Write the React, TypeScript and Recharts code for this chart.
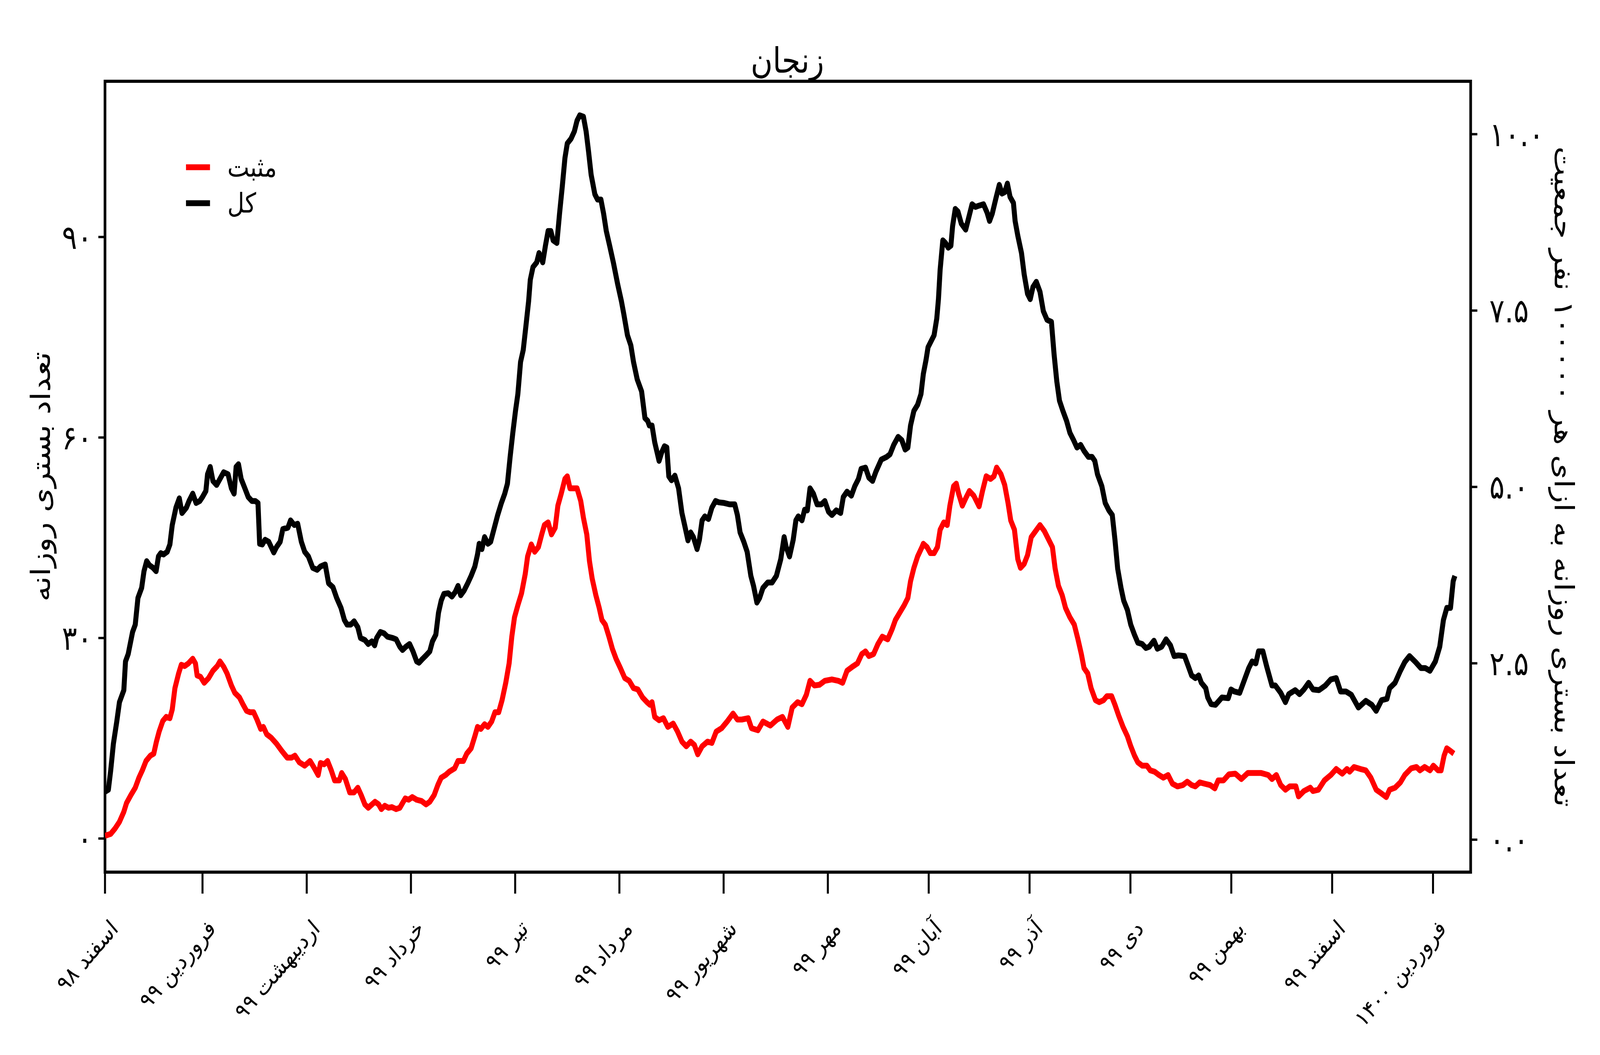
import React from 'react'
import { LineChart, XAxis, YAxis, Line, ReferenceArea } from 'recharts'

// days since 1 Esfand 98
const totalPoints: [number, number][] = [
  [0, 7.0], [1, 7.3], [1.7, 10.2], [2.5, 14.2], [3.5, 17.5], [4.3, 20.4], [5.6, 22.2], [6.1, 26.5], [6.9, 27.6],
  [8.2, 30.9], [9.0, 32.0], [9.8, 36.0], [10.9, 37.5], [11.6, 40.0], [12.4, 41.5], [13.2, 40.9], [14.3, 40.5],
  [15.2, 40.0], [15.9, 42.2], [16.6, 42.7], [17.4, 42.5], [18.5, 42.9], [19.3, 44.0], [20.0, 46.9], [21.1, 49.5],
  [22.1, 50.9], [22.9, 48.7], [24.2, 49.5], [25.0, 50.5], [26.1, 51.6], [27.1, 50.2], [28.2, 50.5], [29.0, 51.1],
  [30.0, 52.0], [30.5, 54.5], [31.3, 55.6], [32.1, 53.5], [33.2, 52.9], [34.2, 53.8], [35.3, 54.8], [36.6, 54.5],
  [37.6, 52.4], [38.4, 51.6], [39.0, 55.6], [39.7, 56.0], [40.5, 53.8], [41.6, 52.4], [42.6, 51.1], [43.7, 50.5],
  [44.7, 50.5], [45.5, 50.2], [46.0, 44.1], [46.8, 44.0], [47.6, 44.7], [48.7, 44.4], [50.2, 42.8], [51.0, 43.6],
  [52.1, 44.4], [52.9, 46.3], [53.6, 46.4], [54.4, 46.5], [55.2, 47.6], [56.3, 46.9], [57.3, 47.1], [58.4, 44.4],
  [59.4, 42.9], [60.5, 42.2], [61.8, 40.5], [63.1, 40.2], [64.1, 40.7], [65.5, 41.0], [66.5, 38.2], [67.8, 37.6],
  [68.9, 36.0], [70.2, 34.5], [71.2, 32.7], [72.0, 32.0], [73.1, 32.0], [74.1, 32.5], [75.2, 31.6], [76.0, 30.0],
  [77.3, 29.7], [78.3, 29.1], [79.4, 29.5], [80.2, 28.9], [80.8, 30.0], [81.9, 30.9], [83.0, 30.7], [84.0, 30.2],
  [85.6, 30.0], [86.6, 29.8], [87.7, 28.7], [88.5, 28.2], [89.5, 28.7], [90.6, 29.1], [91.6, 28.0], [92.7, 26.5],
  [93.4, 26.3], [94.5, 26.9], [95.5, 27.4], [96.6, 28.0], [97.4, 29.5], [98.4, 30.5], [99.2, 33.8], [100.0, 35.6],
  [100.8, 36.6], [102.1, 36.7], [103.2, 36.2], [104.2, 36.9], [105.0, 37.8], [105.8, 36.4], [106.8, 37.1],
  [107.9, 38.2], [108.9, 39.3], [110.0, 40.7], [110.8, 42.5], [111.3, 44.1], [112.1, 43.3], [112.9, 45.1],
  [113.9, 44.1], [114.7, 44.4], [115.8, 46.5], [116.8, 48.4], [117.9, 50.2], [118.9, 51.6], [119.7, 53.1],
  [120.5, 57.1], [121.3, 60.7], [122.1, 64.0], [122.8, 66.5], [123.6, 71.3], [124.4, 73.1], [125.2, 76.7],
  [126.0, 80.4], [126.5, 83.6], [127.3, 85.5], [128.4, 86.2], [129.1, 87.6], [130.2, 86.2], [131.0, 88.7],
  [131.8, 90.9], [132.6, 90.9], [133.3, 89.5], [134.4, 89.1], [135.2, 93.5], [136.0, 97.5], [136.8, 101.8],
  [137.5, 104.0], [138.6, 104.7], [139.6, 105.8], [140.4, 107.4], [141.2, 108.2], [142.3, 108.0], [143.1, 105.8],
  [143.8, 102.9], [144.6, 99.3], [145.7, 96.4], [146.5, 95.6], [147.5, 95.6], [148.3, 93.5], [149.1, 90.9],
  [150.1, 88.7], [151.2, 86.2], [152.5, 82.9], [153.6, 80.4], [154.3, 78.5], [155.4, 75.3], [156.4, 73.8],
  [157.2, 71.3], [158.3, 68.7], [159.6, 66.9], [160.6, 62.9], [161.4, 62.5], [161.9, 61.8], [162.7, 61.8],
  [163.5, 59.3], [164.2, 57.8], [164.8, 56.5], [165.6, 57.8], [166.4, 58.7], [167.1, 58.5], [167.7, 54.2],
  [168.5, 53.6], [169.5, 54.3], [170.6, 52.4], [171.6, 48.7], [172.4, 46.9], [173.4, 44.6], [174.2, 45.8],
  [175.0, 45.1], [176.1, 43.3], [176.8, 44.7], [177.6, 47.6], [178.4, 48.2], [179.5, 47.8], [180.5, 49.5],
  [181.6, 50.5], [182.6, 50.3], [184.2, 50.2], [185.8, 50.0], [187.3, 50.0], [188.1, 48.4], [188.9, 45.8],
  [190.0, 44.4], [191.0, 42.9], [192.1, 39.3], [192.9, 37.8], [193.9, 35.3], [194.7, 36.0], [195.7, 37.5],
  [197.1, 38.3], [198.4, 38.3], [199.7, 39.3], [201.0, 41.8], [202.0, 45.1], [202.6, 43.6], [203.6, 42.2],
  [204.7, 44.7], [205.5, 47.6], [206.2, 48.2], [207.3, 47.6], [208.1, 49.2], [208.9, 49.1], [209.7, 52.4],
  [210.7, 51.6], [211.8, 50.0], [213.1, 50.0], [214.1, 50.5], [215.2, 48.9], [216.2, 48.4], [217.5, 49.1],
  [218.8, 48.7], [219.6, 51.1], [220.7, 51.9], [222.0, 51.3], [223.0, 52.7], [224.1, 53.8], [224.9, 55.3],
  [226.2, 55.5], [227.2, 54.0], [228.3, 53.5], [229.3, 54.9], [230.9, 56.7], [232.5, 57.1], [233.5, 57.5],
  [234.6, 58.9], [235.9, 60.1], [237.0, 59.6], [238.0, 58.2], [238.8, 58.5], [239.6, 61.8], [240.6, 64.0],
  [241.7, 64.9], [242.7, 66.5], [243.4, 69.5], [244.2, 71.6], [244.8, 73.5], [245.5, 74.2], [246.6, 75.3],
  [247.4, 77.8], [247.9, 80.7], [248.4, 85.1], [249.2, 89.5], [250.0, 89.1], [250.8, 88.4], [251.6, 88.7],
  [252.1, 91.6], [252.9, 94.2], [253.7, 93.8], [254.7, 92.0], [256.0, 91.1], [256.8, 92.7], [257.9, 94.9],
  [258.9, 94.5], [260.0, 94.7], [261.3, 94.9], [262.4, 93.6], [263.1, 92.4], [263.9, 93.5], [265.0, 95.8],
  [266.0, 97.8], [266.8, 96.5], [267.6, 96.7], [268.4, 98.0], [269.2, 96.0], [270.2, 95.1], [270.7, 92.4],
  [271.5, 90.2], [272.6, 87.6], [273.4, 84.4], [274.4, 81.5], [275.2, 80.7], [276.0, 82.5], [277.0, 83.3],
  [278.1, 81.8], [279.1, 78.9], [280.2, 77.6], [281.5, 77.3], [282.3, 72.4], [283.1, 68.4], [283.9, 65.5],
  [284.9, 64.0], [286.0, 62.5], [287.0, 60.7], [288.1, 59.6], [289.1, 58.5], [290.2, 58.9], [291.2, 58.0],
  [292.5, 57.1], [293.6, 57.1], [294.4, 56.5], [295.2, 54.5], [296.5, 52.7], [297.5, 50.2], [298.6, 49.1],
  [299.6, 48.4], [300.4, 44.7], [301.2, 40.4], [302.2, 37.5], [303.0, 35.6], [304.1, 34.2], [305.1, 32.0],
  [306.2, 30.5], [307.2, 29.3], [308.5, 29.1], [309.6, 28.5], [310.6, 28.7], [312.0, 29.6], [313.0, 28.4],
  [314.3, 28.7], [315.6, 29.8], [316.9, 28.9], [318.0, 27.3], [319.3, 27.4], [321.1, 27.3], [322.2, 25.8],
  [323.2, 24.4], [324.3, 24.0], [325.3, 24.4], [326.1, 23.3], [327.4, 22.5], [328.0, 21.1], [329.0, 20.1],
  [330.3, 20.0], [332.2, 21.1], [334.1, 21.0], [334.9, 22.3], [335.9, 22.0], [337.5, 21.8], [339.1, 24.0],
  [340.2, 25.5], [341.2, 26.5], [342.3, 26.2], [343.1, 28.0], [344.4, 28.0], [345.5, 25.8], [347.1, 22.9],
  [348.1, 22.9], [349.7, 21.8], [351.1, 20.4], [352.1, 21.6], [354.0, 22.2], [355.3, 21.6], [356.6, 22.3],
  [358.0, 23.3], [359.3, 22.3], [361.1, 22.2], [363.0, 22.9], [364.6, 23.8], [366.2, 24.0], [367.5, 22.0],
  [369.1, 22.0], [370.7, 21.5], [372.8, 19.6], [375.0, 20.6], [376.8, 20.0], [378.1, 19.1], [379.7, 20.7],
  [381.3, 20.9], [382.1, 22.5], [383.7, 23.3], [385.3, 25.1], [386.6, 26.4], [388.0, 27.3], [389.8, 26.4],
  [391.4, 25.5], [392.7, 25.5], [394.1, 25.1], [395.7, 26.5], [397.0, 28.7], [398.1, 32.7], [399.1, 34.5],
  [400.2, 34.5], [401.0, 38.5], [401.5, 39.3],
]

const positivePoints: [number, number][] = [
  [0, 0.4], [1.7, 0.7], [3.0, 1.5], [4.3, 2.5], [5.6, 4.0], [6.4, 5.3], [7.7, 6.5], [9.0, 7.6], [10.1, 9.1],
  [11.1, 10.2], [12.2, 11.6], [13.5, 12.4], [14.5, 12.7], [15.3, 14.5], [16.1, 16.0], [17.2, 17.6], [18.2, 18.2],
  [19.3, 18.0], [20.0, 19.3], [20.8, 22.5], [21.9, 24.7], [22.7, 26.0], [23.7, 25.8], [24.8, 26.2], [26.1, 26.9],
  [26.9, 26.2], [27.4, 24.4], [28.4, 24.2], [29.5, 23.3], [30.8, 24.0], [32.1, 25.1], [33.4, 25.8], [34.2, 26.5],
  [35.3, 25.7], [36.3, 24.7], [37.6, 22.9], [38.6, 21.8], [40.0, 21.1], [41.0, 20.1], [42.1, 19.1], [43.1, 18.9],
  [44.2, 18.9], [45.2, 17.8], [46.3, 16.4], [47.1, 16.7], [48.1, 15.6], [49.4, 15.1], [51.0, 14.2], [52.6, 13.1],
  [54.2, 12.1], [55.5, 12.1], [56.5, 12.4], [57.8, 11.4], [59.4, 10.9], [61.0, 11.6], [62.3, 10.5], [63.4, 9.5],
  [64.1, 11.3], [65.2, 11.1], [66.2, 11.6], [67.3, 10.2], [68.3, 8.7], [69.7, 8.7], [70.4, 9.8], [71.5, 8.9],
  [72.8, 6.9], [74.1, 6.9], [75.2, 7.6], [76.2, 6.5], [77.3, 5.1], [78.3, 4.6], [79.4, 5.1], [80.3, 5.5],
  [81.4, 5.1], [82.2, 4.4], [83.2, 4.9], [84.3, 4.6], [85.3, 4.7], [86.6, 4.4], [87.7, 4.6], [88.5, 5.3],
  [89.3, 6.0], [90.3, 5.8], [91.4, 6.2], [92.7, 5.8], [94.2, 5.6], [95.5, 5.1], [96.6, 5.5], [97.9, 6.5],
  [99.0, 8.0], [100.0, 9.1], [101.3, 9.5], [102.4, 10.0], [104.0, 10.5], [105.0, 11.6], [106.6, 11.6],
  [107.6, 12.7], [108.9, 13.5], [110.0, 15.3], [110.8, 16.7], [111.8, 16.4], [112.9, 17.1], [113.9, 16.7],
  [115.0, 17.5], [116.0, 18.9], [117.1, 18.9], [118.1, 20.7], [119.2, 23.3], [120.2, 26.2], [121.0, 30.2],
  [121.8, 33.1], [122.8, 34.9], [123.9, 36.7], [125.0, 39.6], [125.7, 42.2], [126.8, 44.0], [127.8, 42.9],
  [128.9, 43.6], [129.9, 45.5], [130.7, 46.9], [131.8, 47.3], [132.8, 45.5], [133.9, 46.5], [134.7, 49.8],
  [135.7, 51.6], [136.8, 53.8], [137.5, 54.2], [138.3, 52.4], [139.4, 52.4], [140.4, 52.4], [141.5, 50.5],
  [142.3, 48.0], [143.3, 45.5], [144.1, 41.5], [144.9, 38.9], [146.0, 36.4], [147.0, 34.5], [147.8, 32.7],
  [148.8, 32.0], [149.9, 30.2], [150.9, 28.4], [152.0, 26.9], [153.3, 25.5], [154.6, 24.0], [155.9, 23.6],
  [157.2, 22.5], [158.5, 22.3], [159.9, 21.1], [161.2, 20.4], [162.1, 20.0], [162.7, 20.4], [163.5, 18.2],
  [164.8, 17.7], [166.1, 18.0], [167.4, 16.7], [169.0, 17.2], [170.3, 16.0], [171.6, 14.5], [172.9, 13.8],
  [174.2, 14.5], [175.3, 14.0], [176.3, 12.6], [177.6, 13.8], [179.2, 14.5], [180.5, 14.3], [181.8, 16.0],
  [183.4, 16.5], [185.2, 17.6], [186.8, 18.7], [188.1, 17.8], [189.4, 17.8], [191.3, 18.0], [192.3, 16.5],
  [194.2, 16.2], [195.7, 17.5], [197.9, 16.9], [199.9, 17.8], [201.5, 18.2], [203.1, 16.7], [204.4, 19.6],
  [206.0, 20.4], [207.3, 20.1], [208.6, 21.5], [209.7, 23.6], [211.0, 22.9], [212.5, 23.0], [214.1, 23.6],
  [216.2, 23.8], [218.1, 23.6], [219.4, 23.3], [220.7, 25.1], [222.3, 25.7], [223.8, 26.2], [225.1, 27.6],
  [226.2, 28.0], [227.2, 27.3], [228.6, 27.6], [229.9, 29.1], [231.2, 30.2], [232.8, 29.8], [234.1, 31.3],
  [235.1, 32.7], [236.4, 33.8], [237.7, 34.9], [238.8, 36.0], [239.6, 38.5], [240.6, 40.5], [241.7, 42.2],
  [243.0, 43.6], [243.4, 44.1], [244.5, 43.6], [245.5, 42.7], [246.6, 42.7], [247.6, 43.6], [248.4, 46.2],
  [249.5, 47.3], [250.5, 46.9], [251.3, 49.8], [252.4, 52.7], [253.2, 53.1], [253.9, 51.6], [255.0, 49.8],
  [256.0, 50.9], [257.1, 52.0], [258.4, 51.3], [260.0, 49.7], [261.0, 52.0], [262.1, 54.2], [263.4, 53.8],
  [264.4, 54.2], [265.2, 55.5], [266.5, 54.5], [267.6, 52.9], [268.6, 50.2], [269.4, 47.6], [270.5, 46.2],
  [271.5, 41.8], [272.3, 40.5], [273.4, 41.1], [274.4, 42.4], [275.5, 45.1], [276.8, 46.0], [278.1, 46.9],
  [279.4, 46.0], [280.7, 44.7], [281.8, 43.6], [282.6, 40.4], [283.6, 37.8], [284.7, 36.4], [285.7, 34.5],
  [287.0, 33.1], [288.3, 32.0], [289.4, 29.8], [290.4, 27.6], [291.2, 25.5], [292.3, 24.7], [293.3, 22.5],
  [294.6, 20.7], [295.7, 20.4], [297.0, 20.7], [298.0, 21.3], [299.4, 21.3], [300.4, 20.0], [301.5, 18.4],
  [302.8, 16.7], [304.1, 15.3], [305.1, 13.8], [306.2, 12.4], [307.2, 11.4], [308.5, 10.9], [309.9, 10.9],
  [310.9, 10.2], [312.2, 10.0], [313.5, 9.5], [314.8, 9.1], [316.2, 9.5], [317.5, 8.2], [319.0, 7.8],
  [320.6, 8.0], [321.9, 8.5], [323.2, 8.0], [324.3, 7.8], [325.6, 8.4], [327.1, 8.2], [328.7, 8.0], [330.1, 7.5],
  [331.1, 8.7], [332.7, 8.7], [334.3, 9.6], [336.2, 9.7], [338.0, 8.9], [339.9, 9.8], [342.0, 9.8], [343.9, 9.8],
  [346.0, 9.5], [347.1, 8.9], [348.4, 9.5], [349.7, 8.0], [351.1, 7.3], [352.4, 7.8], [354.2, 7.8], [355.0, 6.3],
  [356.6, 7.1], [358.5, 7.6], [359.3, 7.1], [360.9, 7.3], [362.7, 8.7], [364.6, 9.5], [366.2, 10.4], [368.0, 9.7],
  [369.4, 10.4], [370.2, 10.0], [371.5, 10.7], [373.4, 10.4], [375.0, 10.2], [376.5, 9.1], [378.1, 7.3],
  [379.5, 6.8], [381.1, 6.2], [382.1, 7.3], [383.7, 7.6], [385.3, 8.4], [386.6, 9.5], [388.5, 10.5], [390.1, 10.7],
  [391.1, 10.2], [392.5, 10.7], [394.1, 10.2], [395.1, 10.9], [396.5, 10.2], [397.4, 10.2], [398.3, 12.4],
  [399.1, 13.5], [400.2, 13.1], [401.2, 12.7],
]

const monthDays = [0, 29, 60, 91, 122, 153, 184, 215, 245, 275, 305, 335, 365, 395]
const monthLabels = [
  'اسفند ۹۸', 'فروردین ۹۹', 'اردیبهشت ۹۹', 'خرداد ۹۹', 'تیر ۹۹', 'مرداد ۹۹', 'شهریور ۹۹',
  'مهر ۹۹', 'آبان ۹۹', 'آذر ۹۹', 'دی ۹۹', 'بهمن ۹۹', 'اسفند ۹۹', 'فروردین ۱۴۰۰',
]
const leftTicks = [0, 30, 60, 90]
const rightTicks = [0, 2.5, 5, 7.5, 10]

const FONT = 'DejaVu Sans'
const W = 4800
const H = 2700
const X_DOMAIN: [number, number] = [0, 406.2]
const LEFT_DOMAIN: [number, number] = [-5.03, 113.3]
const RIGHT_DOMAIN: [number, number] = [-0.46, 10.75]

const toFa = (s: string) => s.replace(/[0-9]/g, (d) => '۰۱۲۳۴۵۶۷۸۹'[Number(d)])

const totalData = totalPoints.map(([day, value]) => ({ day, value }))
const positiveData = positivePoints.map(([day, value]) => ({ day, value }))

const MonthTick = (props: any) => {
  const { x, y, payload } = props
  const i = monthDays.indexOf(payload.value)
  return (
    <g transform={`translate(${x + 28},${y + 78}) rotate(-45)`}>
      <text textAnchor="end" dominantBaseline="central" fontSize={60} fontFamily={FONT} fill="#000">
        {monthLabels[i]}
      </text>
    </g>
  )
}

const tickLine = { stroke: '#000', strokeWidth: 6 }
const tickText = { fontSize: 85, fill: '#000', fontFamily: FONT }

export default function App() {
  // the browser window may be narrower than the 4800x2700 design: fit it
  const vw = typeof window !== 'undefined' ? window.innerWidth : W
  const vh = typeof window !== 'undefined' ? window.innerHeight : H
  const sx = Math.min(1, vw / W)
  const sy = Math.min(1, vh / H)
  return (
    <div
      style={{
        position: 'absolute',
        left: 0,
        top: 0,
        width: W,
        height: H,
        background: '#fff',
        transform: `scale(${sx},${sy})`,
        transformOrigin: '0 0',
      }}
    >
      <LineChart width={W} height={H} margin={{ top: 208, right: 0, bottom: 0, left: 0 }}>
        <XAxis
          type="number"
          dataKey="day"
          domain={X_DOMAIN}
          allowDataOverflow
          ticks={monthDays}
          interval={0}
          height={468}
          axisLine={false}
          tickLine={tickLine}
          tickSize={55}
          tickMargin={0}
          tick={(p: any) => <MonthTick {...p} />}
        />
        <YAxis
          yAxisId="left"
          domain={LEFT_DOMAIN}
          allowDataOverflow
          ticks={leftTicks}
          interval={0}
          width={315}
          axisLine={false}
          tickLine={tickLine}
          tickSize={20}
          tickMargin={18}
          tick={tickText}
          tickFormatter={(v: number) => toFa(String(v))}
        />
        <YAxis
          yAxisId="right"
          orientation="right"
          domain={RIGHT_DOMAIN}
          allowDataOverflow
          ticks={rightTicks}
          interval={0}
          width={388}
          axisLine={false}
          tickLine={tickLine}
          tickSize={20}
          tickMargin={36}
          tick={tickText}
          tickFormatter={(v: number) => toFa(v.toFixed(1))}
        />
        <Line
          yAxisId="left"
          data={positiveData}
          dataKey="value"
          type="linear"
          stroke="#ff0000"
          strokeWidth={15}
          strokeLinejoin="round"
          dot={false}
          isAnimationActive={false}
        />
        <Line
          yAxisId="left"
          data={totalData}
          dataKey="value"
          type="linear"
          stroke="#000000"
          strokeWidth={15}
          strokeLinejoin="round"
          dot={false}
          isAnimationActive={false}
        />
        <ReferenceArea
          yAxisId="left"
          x1={X_DOMAIN[0]}
          x2={X_DOMAIN[1]}
          y1={LEFT_DOMAIN[0]}
          y2={LEFT_DOMAIN[1]}
          fill="none"
          fillOpacity={0}
          stroke="#000"
          strokeWidth={8}
          ifOverflow="visible"
        />
      </LineChart>
      <svg
        width={W}
        height={H}
        style={{ position: 'absolute', left: 0, top: 0, pointerEvents: 'none' }}
        fontFamily={FONT}
      >
        <text x={2362} y={155} textAnchor="middle" dominantBaseline="central" fontSize={90}>
          زنجان
        </text>
        <text transform="translate(123,1220) rotate(-90)" textAnchor="middle" dominantBaseline="central" fontSize={80}>
          تعداد بستری روزانه
        </text>
        <text transform="translate(4692,1220) rotate(90)" textAnchor="middle" dominantBaseline="central" fontSize={80}>
          تعداد بستری روزانه به ازای هر ۱۰۰۰۰۰ نفر جمعیت
        </text>
        <line x1={558} x2={630} y1={428} y2={428} stroke="#ff0000" strokeWidth={15} />
        <text x={682} y={428} dominantBaseline="central" fontSize={70}>
          مثبت
        </text>
        <line x1={558} x2={630} y1={520} y2={520} stroke="#000" strokeWidth={15} />
        <text x={682} y={520} dominantBaseline="central" fontSize={70}>
          کل
        </text>
      </svg>
    </div>
  )
}
